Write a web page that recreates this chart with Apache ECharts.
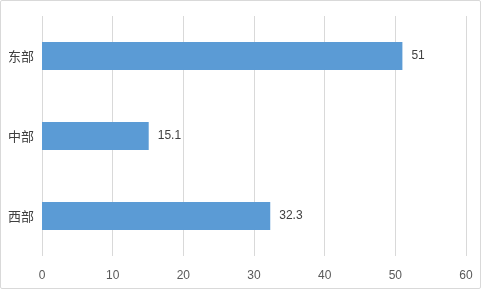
<!DOCTYPE html>
<html><head><meta charset="utf-8">
<script src="https://cdn.jsdelivr.net/npm/echarts@6/dist/echarts.min.js"></script>
<style>html,body{margin:0;padding:0;background:#fff}#c{width:481px;height:289px;box-sizing:border-box;border:1px solid #d9d9d9;border-radius:2px}</style>
</head><body><div id="c"></div>
<script>
const categories = ['西部', '中部', '东部'];
const values = [32.3, 15.1, 51];
const xTicks = [0, 10, 20, 30, 40, 50, 60];

const chart = echarts.init(document.getElementById('c'));
chart.setOption({
  animation: false,
  grid: { left: 41, right: 14, top: 15, bottom: 32 },
  xAxis: {
    type: 'value', min: xTicks[0], max: xTicks[xTicks.length - 1], interval: 10,
    axisLine: { show: false }, axisTick: { show: false },
    splitLine: { lineStyle: { color: '#d9d9d9', width: 1 } },
    axisLabel: { color: '#595959', fontSize: 12, margin: 14, fontFamily: 'Liberation Sans, Arial, sans-serif' }
  },
  yAxis: {
    type: 'category', data: categories,
    axisLine: { show: false }, axisTick: { show: false },
    axisLabel: { color: '#404040', fontSize: 13, margin: 8, fontFamily: 'Noto Sans CJK SC, sans-serif' }
  },
  series: [{
    type: 'bar', data: values, barWidth: 28,
    itemStyle: { color: '#5b9bd5' },
    label: { show: true, position: 'right', distance: 9, color: '#404040', fontSize: 12, fontFamily: 'Liberation Sans, Arial, sans-serif' }
  }]
});
</script></body></html>
